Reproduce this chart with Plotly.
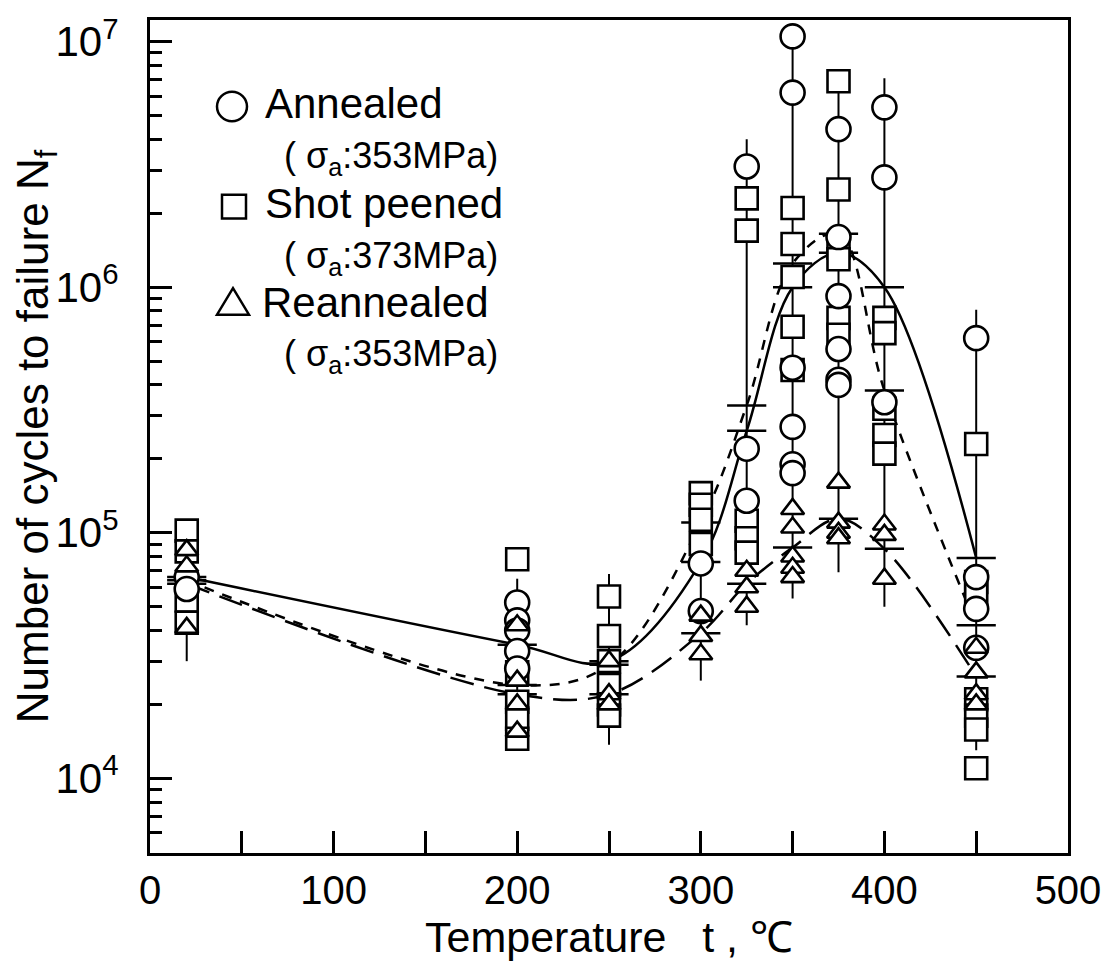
import plotly.graph_objects as go

# ---------------- data ----------------
temps = [20, 200, 250, 300, 325, 350, 375, 400, 450]

# individual specimens, one list per temperature (same order as temps)
annealed_vals = [
    [6.6e4, 5.9e4],
    [5.2e4, 4.4e4, 4.0e4, 3.3e4, 2.8e4],
    [],
    [7.5e4, 4.8e4],
    [3.1e6, 2.2e5, 1.35e5],
    [1.05e7, 6.2e6, 4.7e5, 2.7e5, 1.9e5, 1.75e5],
    [4.4e6, 1.6e6, 9.2e5, 5.6e5, 4.2e5, 4.0e5],
    [5.4e6, 2.8e6, 3.4e5],
    [6.2e5, 6.6e4, 4.9e4, 3.4e4],
]
shot_vals = [
    [1.02e5, 8.4e4, 5.3e4, 4.3e4],
    [7.8e4, 2.7e4, 2.05e4, 1.75e4, 1.45e4],
    [5.5e4, 3.8e4, 3.0e4, 2.4e4, 2.0e4, 1.8e4],
    [1.45e5, 1.3e5, 1.13e5, 9.0e4],
    [2.3e6, 1.7e6, 1.12e5, 9.5e4, 8.3e4],
    [2.1e6, 1.5e6, 1.1e6, 6.9e5, 4.6e5],
    [6.9e6, 2.5e6, 1.45e6, 1.3e6, 7.5e5, 6.4e5],
    [7.5e5, 6.5e5, 3.2e5, 2.5e5, 2.1e5],
    [2.3e5, 6.3e4, 5.6e4, 2.1e4, 1.8e4, 1.58e4, 1.1e4],
]
reann_vals = [
    [8.5e4, 7.3e4, 4.1e4],
    [4.2e4, 2.5e4, 2.0e4, 1.55e4],
    [3.0e4, 2.2e4, 2.0e4],
    [4.6e4, 3.8e4, 3.2e4],
    [7.0e4, 6.0e4, 5.0e4],
    [1.25e5, 1.05e5, 8.0e4, 7.2e4, 6.6e4],
    [1.6e5, 1.1e5, 1.0e5, 9.5e4],
    [1.08e5, 9.8e4, 6.5e4],
    [3.4e4, 2.7e4, 2.2e4, 2.0e4],
]

# mean values (the "+" marks the curves pass through)
annealed_mean = [6.6e4, 3.5e4, 3.0e4, 7.6e4, 2.6e5, 1.0e6, 1.38e6, 1.0e6, 7.9e4]
shot_mean = [6.4e4, 2.4e4, 2.9e4, 1.1e5, 3.3e5, 1.25e6, 1.65e6, 3.8e5, 4.2e4]
reann_mean = [6.2e4, 2.2e4, 2.2e4, 3.9e4, 6.2e4, 8.7e4, 1.14e5, 8.6e4, 2.6e4]

# scatter band at each temperature
range_low = [3.0e4, 1.3e4, 1.37e4, 2.5e4, 4.2e4, 5.4e4, 6.9e4, 5.0e4, 1.3e4]
range_high = [1.02e5, 6.5e4, 6.8e4, 1.45e5, 4.0e6, 1.15e7, 6.9e6, 7.1e6, 8.1e5]

legend_labels = ["Annealed", "Shot peened", "Reannealed"]
legend_sub = ["( σ<sub>a</sub>:353MPa)", "( σ<sub>a</sub>:373MPa)", "( σ<sub>a</sub>:353MPa)"]

y_tick_vals = [1e4, 1e5, 1e6, 1e7]
y_tick_text = ["10<sup>4</sup>", "10<sup>5</sup>", "10<sup>6</sup>", "10<sup>7</sup>"]
x_tick_vals = [0, 100, 200, 300, 400, 500]

# ---------------- layout geometry ----------------
FONT = "Arial, Liberation Sans, Helvetica, sans-serif"
W, H = 1099, 953          # page body margin of 8px -> 1115 x 969 window
L, R, T, B = 142, 39, 4, 101
PL, PR, PT, PB = 150, 1068, 12, 860   # plot area in window pixels


def px(x):
    return (x - PL) / (PR - PL)


def py(y):
    return (PB - y) / (PB - PT)


def flat(vals):
    xs, ys = [], []
    for t, vs in zip(temps, vals):
        for v in vs:
            xs.append(t)
            ys.append(v)
    return xs, ys


fig = go.Figure()

# vertical scatter bands
bx, by = [], []
for t, lo, hi in zip(temps, range_low, range_high):
    bx += [t, t, None]
    by += [lo, hi, None]
fig.add_trace(go.Scatter(x=bx, y=by, mode="lines", line=dict(color="black", width=2),
                         hoverinfo="skip", showlegend=False))

# fitted curves
curve_styles = [("solid", annealed_mean), ("10px,9px", shot_mean), ("24px,11px", reann_mean)]
for dash, ys in curve_styles:
    fig.add_trace(go.Scatter(x=temps, y=ys, mode="lines",
                             line=dict(color="black", width=2.5, dash=dash, shape="spline", smoothing=1.0),
                             hoverinfo="skip", showlegend=False))

# mean ticks
for ys in (annealed_mean, shot_mean, reann_mean):
    fig.add_trace(go.Scatter(x=temps, y=ys, mode="markers",
                             marker=dict(symbol="line-ew", size=28, color="black",
                                         line=dict(color="black", width=2.5)),
                             showlegend=False))

# specimens
series = [
    (legend_labels[1], shot_vals, "square", 22),
    (legend_labels[0], annealed_vals, "circle", 24),
    (legend_labels[2], reann_vals, "triangle-up", 20),
]
for name, vals, sym, size in series:
    xs, ys = flat(vals)
    fig.add_trace(go.Scatter(x=xs, y=ys, mode="markers", name=name,
                             marker=dict(symbol=sym, size=size, color="white",
                                         line=dict(color="black", width=2.6)),
                             showlegend=False))

# ---------------- legend drawn in paper space ----------------
shapes = []
annotations = []
lw = 2.5
# circle
cx, cy, r = 232, 100, 15
shapes.append(dict(type="circle", xref="paper", yref="paper",
                   x0=px(cx - r), x1=px(cx + r), y0=py(cy + r), y1=py(cy - r),
                   line=dict(color="black", width=lw), fillcolor="white"))
# square
cx, cy, r = 234, 202, 12
shapes.append(dict(type="rect", xref="paper", yref="paper",
                   x0=px(cx - r), x1=px(cx + r), y0=py(cy + r), y1=py(cy - r),
                   line=dict(color="black", width=lw), fillcolor="white"))
# triangle
cx, cy = 233, 300
path = "M {:.5f},{:.5f} L {:.5f},{:.5f} L {:.5f},{:.5f} Z".format(
    px(cx - 16), py(cy + 12), px(cx + 16), py(cy + 12), px(cx), py(cy - 15))
shapes.append(dict(type="path", xref="paper", yref="paper", path=path,
                   line=dict(color="black", width=lw), fillcolor="white"))

rows_main = [(263, 97), (263, 199), (260, 300)]
rows_sub = [(282, 152), (282, 254), (282, 354)]
for (x, y), txt in zip(rows_main, legend_labels):
    annotations.append(dict(xref="paper", yref="paper", x=px(x), y=py(y), text=txt,
                            showarrow=False, xanchor="left", yanchor="middle",
                            font=dict(family=FONT, size=42, color="black")))
for (x, y), txt in zip(rows_sub, legend_sub):
    annotations.append(dict(xref="paper", yref="paper", x=px(x), y=py(y), text=txt,
                            showarrow=False, xanchor="left", yanchor="middle",
                            font=dict(family=FONT, size=36, color="black")))

minor_vals = [k * 10 ** e for e in range(3, 7) for k in range(2, 10)]

fig.update_layout(
    width=W, height=H,
    margin=dict(l=L, r=R, t=T, b=B, pad=0),
    paper_bgcolor="white", plot_bgcolor="white",
    font=dict(family=FONT, size=42, color="black"),
    shapes=shapes, annotations=annotations,
    showlegend=False,
    xaxis=dict(range=[0, 500], tickvals=x_tick_vals, ticks="inside", ticklen=22, tickwidth=3,
               tickcolor="black", showline=True, linewidth=3, linecolor="black", mirror=True,
               showgrid=False, zeroline=False, ticklabelstandoff=0, ticklabeloverflow="allow",
               tickfont=dict(size=40),
               minor=dict(dtick=50, ticks="inside", ticklen=22, tickwidth=3, tickcolor="black", showgrid=False),
               title=dict(text="Temperature\u00a0\u00a0\u00a0t\u00a0,\u00a0\u2103", font=dict(size=43), standoff=15)),
    yaxis=dict(type="log", range=[3.696, 7.088], tickvals=y_tick_vals, ticktext=y_tick_text,
               ticks="inside", ticklen=22, tickwidth=3, tickcolor="black",
               showline=True, linewidth=3, linecolor="black", mirror=True,
               showgrid=False, zeroline=False, ticklabelstandoff=20, ticklabeloverflow="allow",
               tickfont=dict(size=42),
               minor=dict(tickvals=minor_vals, ticks="inside", ticklen=12, tickwidth=2.5,
                          tickcolor="black", showgrid=False),
               title=dict(text="Number of cycles to failure N<sub>f</sub>", font=dict(size=44), standoff=4)),
)

fig.write_html("out.html")
